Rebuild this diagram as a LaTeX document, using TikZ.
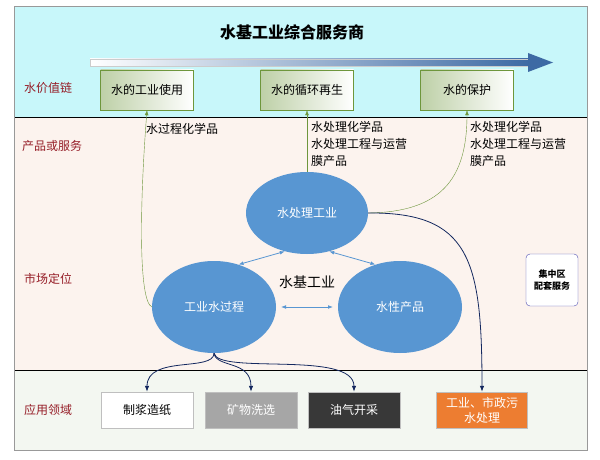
\documentclass[tikz,border=0pt]{standalone}
\usepackage{fontspec}
\setmainfont{Noto Sans CJK SC}
\usetikzlibrary{arrows.meta,shapes.geometric}
\definecolor{cyanbg}{RGB}{200,247,250}
\definecolor{peachbg}{RGB}{252,243,238}
\definecolor{greenbg}{RGB}{243,247,241}
\definecolor{rowred}{RGB}{150,30,40}
\definecolor{ellblue}{RGB}{88,150,210}
\definecolor{navy}{RGB}{20,40,95}
\definecolor{valgreen}{RGB}{110,150,60}
\definecolor{orangebox}{RGB}{237,125,49}
\newcommand\txt{\fontsize{12}{17}\selectfont}
\tikzset{
  rowlabel/.style = {text=rowred, font=\txt},
  valuebox/.style = {draw=valgreen, left color=valgreen!45, right color=white, minimum width=93pt, minimum height=40pt, font=\txt},
  market/.style = {ellipse, fill=ellblue, text=white, font=\txt},
  appbox/.style = {draw=gray!50, minimum width=92pt, minimum height=36pt, font=\txt, align=center},
  green line/.style = {draw=valgreen, -{Latex[length=5pt]}},
  navy line/.style = {draw=navy, thick, -{Latex[length=6pt]}},
  link/.style = {draw=ellblue, thick, {Latex[length=5pt]}-{Latex[length=5pt]}},
  prodtext/.style = {anchor=north west, align=left, font=\txt, inner sep=0pt}
}
\begin{document}
\begin{tikzpicture}[x=1pt, y=-1pt]
  \useasboundingbox (0,0) rectangle (600,460);
  % bands
  \fill[cyanbg] (14,6) rectangle (587,117);
  \fill[peachbg] (14,117) rectangle (587,370);
  \fill[greenbg] (14,370) rectangle (587,450);
  \draw[thick] (14,117) -- (587,117);
  \draw[thick] (14,370) -- (587,370);
  \draw[gray!80] (14,6) rectangle (587,450);
  \node[font=\fontsize{16}{18}\selectfont\bfseries] (title) at (292,32) {水基工业综合服务商};
  % value chain arrow
  \shade[left color=white, right color=ellblue!60!navy, draw=gray!40] (90,59) rectangle (530,66);
  \fill[ellblue!60!navy] (528,53) -- (553,62.5) -- (528,72) -- cycle;
  % row labels
  \node[rowlabel] (r1) at (48,88) {水价值链};
  \node[rowlabel] (r2) at (52,146) {产品或服务};
  \node[rowlabel] (r3) at (48,279) {市场定位};
  \node[rowlabel] (r4) at (48,410) {应用领域};
  % value boxes
  \node[valuebox] (use) at (147,90) {水的工业使用};
  \node[valuebox] (cycle) at (307,90) {水的循环再生};
  \node[valuebox] (protect) at (467,90) {水的保护};
  % products
  \node[prodtext] (p1) at (146,123) {水过程化学品};
  \node[prodtext] (p2) at (311,121) {水处理化学品\\水处理工程与运营\\膜产品};
  \node[prodtext] (p3) at (470,121) {水处理化学品\\水处理工程与运营\\膜产品};
  % market ellipses
  \node[market, minimum width=122pt, minimum height=82pt] (treat) at (307,213) {水处理工业};
  \node[market, minimum width=124pt, minimum height=92pt] (proc) at (214,307) {工业水过程};
  \node[market, minimum width=124pt, minimum height=92pt] (prod) at (400,307) {水性产品};
  \node[font=\fontsize{14}{16}\selectfont] (core) at (307,282) {水基工业};
  \node[draw=gray!60!blue, rounded corners=4pt, fill=white, font=\fontsize{9}{12}\selectfont\bfseries, align=center,
        minimum width=52pt, minimum height=52pt] (zone) at (552,280) {集中区\\配套服务};
  % links between ellipses
  \draw[link] (treat.240) -- (proc.60);
  \draw[link] (treat.300) -- (prod.120);
  \coordinate (pe) at (281,307);
  \coordinate (pw) at (333,307);
  \draw[link] (pe) -- (pw);
  % green connectors up to value chain
  \draw[green line] (proc.west) .. controls (138,300) and (140,200) .. (use.south);
  \draw[green line] (treat.north) -- (cycle.south);
  \draw[green line] (treat.east) .. controls (440,212) and (467,180) .. (protect.south);
  % application boxes
  \node[appbox, fill=white] (paper) at (147,410) {制浆造纸};
  \node[appbox, fill=gray!70, text=white] (mine) at (251,410) {矿物洗选};
  \node[appbox, fill=black!78, text=white] (oil) at (354,410) {油气开采};
  \node[appbox, fill=orangebox, text=white, minimum width=91pt, font=\fontsize{12}{15}\selectfont] (city) at (482,410) {工业、市政污\\水处理};
  % navy connectors down
  \draw[navy line] (treat.east) .. controls (470,212) and (482,260) .. (city.north);
  \draw[navy line] (proc.south) .. controls (214,372) and (147,355) .. (paper.north);
  \draw[navy line] (proc.south) .. controls (216,368) and (251,360) .. (mine.north);
  \draw[navy line] (proc.south) .. controls (218,375) and (354,350) .. (oil.north);
\end{tikzpicture}
\end{document}
